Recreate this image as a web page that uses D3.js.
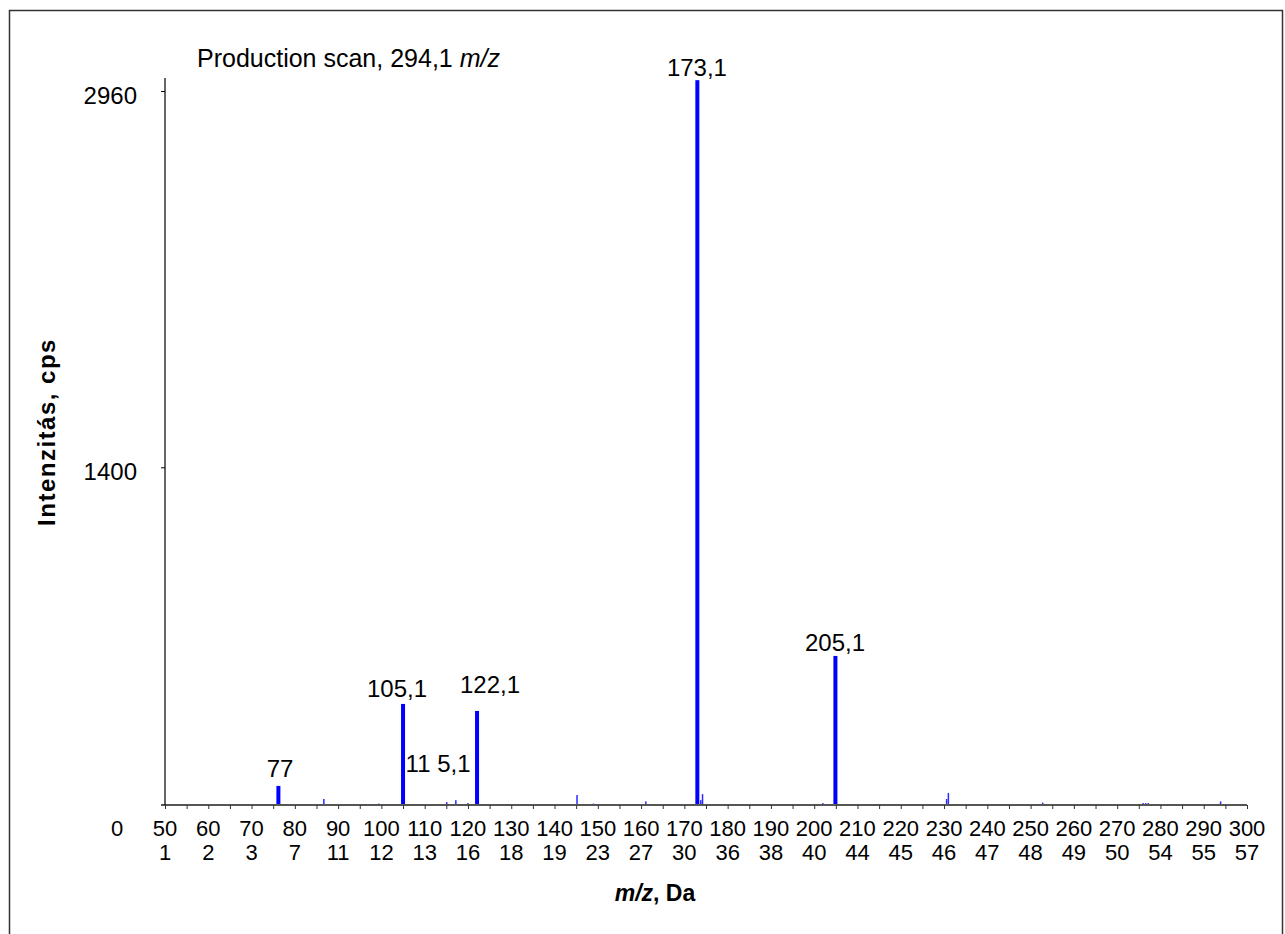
<!DOCTYPE html>
<html>
<head>
<meta charset="utf-8">
<script src="https://cdn.jsdelivr.net/npm/d3@7"></script>
<style>
  html, body { margin: 0; padding: 0; background: #fff; }
  svg { display: block; }
  text { font-family: "Liberation Sans", Arial, Helvetica, sans-serif; fill: #000; }
</style>
</head>
<body>
<svg id="chart" width="1285" height="934"></svg>
<script>
// ---------- data ----------
const xTicksMajor = [50, 60, 70, 80, 90, 100, 110, 120, 130, 140, 150, 160, 170, 180, 190, 200, 210, 220, 230, 240, 250, 260, 270, 280, 290, 300];
const xTicksSecondRow = ["1", "2", "3", "7", "11", "12", "13", "16", "18", "19", "23", "27", "30", "36", "38", "40", "44", "45", "46", "47", "48", "49", "50", "54", "55", "57"];
const yTickValues = [1400, 2960];

// major (labelled) peaks: m/z and intensity (cps)
const majorMz = [76.2, 105.0, 122.1, 173.0, 204.9];
const majorIntensity = [79, 419, 390, 3005, 618];

// minor peaks
const minorMz = [59.5, 73.8, 86.7, 91.0, 99.4, 115.1, 117.2, 120.0, 131.7, 143.0, 145.2, 149.0, 154.8, 159.0, 161.1, 171.2, 173.8, 174.2, 177.0, 188.0, 196.0, 202.0, 212.0, 217.0, 230.6, 231.0, 252.8, 276.0, 276.6, 277.2, 293.9];
const minorIntensity = [4, 4, 25, 4, 6, 12, 20, 8, 3, 4, 41, 6, 4, 4, 15, 4, 20, 45, 4, 4, 4, 8, 4, 4, 25, 50, 10, 8, 8, 8, 15];

// peak annotations: text and anchor in data coordinates (m/z, cps)
const annText = ["77", "105,1", "11 5,1", "122,1", "173,1", "205,1"];
const annMz = [76.6, 103.6, 113.1, 125.1, 172.9, 204.8];
const annLevel = [116, 448, 137, 464, 3022, 638];

const titleText = "Production scan, 294,1 ";
const yTitle = "Intenzitás, cps";

// ---------- layout ----------
const svg = d3.select("#chart");
const x = d3.scaleLinear().domain([50, 300]).range([165, 1247]);
const y = d3.scaleLinear().domain([0, 3014]).range([805, 78]);

// frame
svg.append("rect")
  .attr("x", 9.5).attr("y", 10.5)
  .attr("width", 1273).attr("height", 960)
  .attr("fill", "none").attr("stroke", "#333").attr("stroke-width", 1.5);

// minor peaks
svg.append("g").selectAll("rect")
  .data(d3.zip(minorMz, minorIntensity))
  .join("rect")
  .attr("x", d => x(d[0]) - 0.75)
  .attr("width", 1.5)
  .attr("y", d => y(d[1]))
  .attr("height", d => y(0) - y(d[1]))
  .attr("fill", "#2a2aff");

// major peaks
svg.append("g").selectAll("rect")
  .data(d3.zip(majorMz, majorIntensity))
  .join("rect")
  .attr("x", d => x(d[0]) - 2)
  .attr("width", 4)
  .attr("y", d => y(d[1]))
  .attr("height", d => y(0) - y(d[1]))
  .attr("fill", "#0000ff");

// x axis
const xAxis = d3.axisBottom(x)
  .tickValues(d3.range(50, 301, 5))
  .tickSize(4)
  .tickFormat("");
const gx = svg.append("g").attr("transform", `translate(0,${y(0)})`).call(xAxis);
gx.select(".domain").attr("stroke", "#555").attr("stroke-width", 2).attr("d", `M${x(50) - 4},0H${x(300)}`);
gx.selectAll(".tick line").attr("stroke", "#333");

// x tick labels, two rows
const xl = svg.append("g").attr("font-size", 22).attr("text-anchor", "middle");
xl.selectAll("text.r1").data(xTicksMajor).join("text")
  .attr("class", "r1")
  .attr("x", d => x(d)).attr("y", y(0) + 31)
  .text(d => d);
xl.selectAll("text.r2").data(xTicksSecondRow).join("text")
  .attr("class", "r2")
  .attr("x", (d, i) => x(xTicksMajor[i])).attr("y", y(0) + 55)
  .text(d => d);
xl.append("text").attr("x", x(50) - 48).attr("y", y(0) + 31).text("0");

// y axis
const yAxis = d3.axisLeft(y).tickValues(yTickValues).tickSize(4).tickFormat("");
const gy = svg.append("g").attr("transform", `translate(${x(50)},0)`).call(yAxis);
gy.select(".domain").attr("stroke", "#000").attr("stroke-width", 1.2).attr("d", `M0,${y(0)}V${y(3014)}`);
svg.append("g").attr("font-size", 24).attr("text-anchor", "end")
  .selectAll("text").data(yTickValues).join("text")
  .attr("x", 137).attr("y", d => y(d) + 13)
  .text(d => d);

// peak annotations
svg.append("g").attr("font-size", 24)
  .selectAll("text").data(d3.zip(annText, annMz, annLevel)).join("text")
  .attr("text-anchor", "middle")
  .attr("x", d => x(d[1])).attr("y", d => y(d[2]))
  .text(d => d[0]);

// title
const t = svg.append("text").attr("x", 197).attr("y", 67).attr("font-size", 25);
t.append("tspan").text(titleText);
t.append("tspan").attr("font-style", "italic").text("m/z");

// axis titles
svg.append("text")
  .attr("transform", `translate(55,432) rotate(-90)`)
  .attr("text-anchor", "middle").attr("font-size", 24).attr("font-weight", "bold")
  .attr("letter-spacing", 1.5)
  .text(yTitle);
const xt = svg.append("text")
  .attr("x", 655).attr("y", 901)
  .attr("text-anchor", "middle").attr("font-size", 23).attr("font-weight", "bold");
xt.append("tspan").attr("font-style", "italic").text("m/z");
xt.append("tspan").text(", Da");
</script>
</body>
</html>
